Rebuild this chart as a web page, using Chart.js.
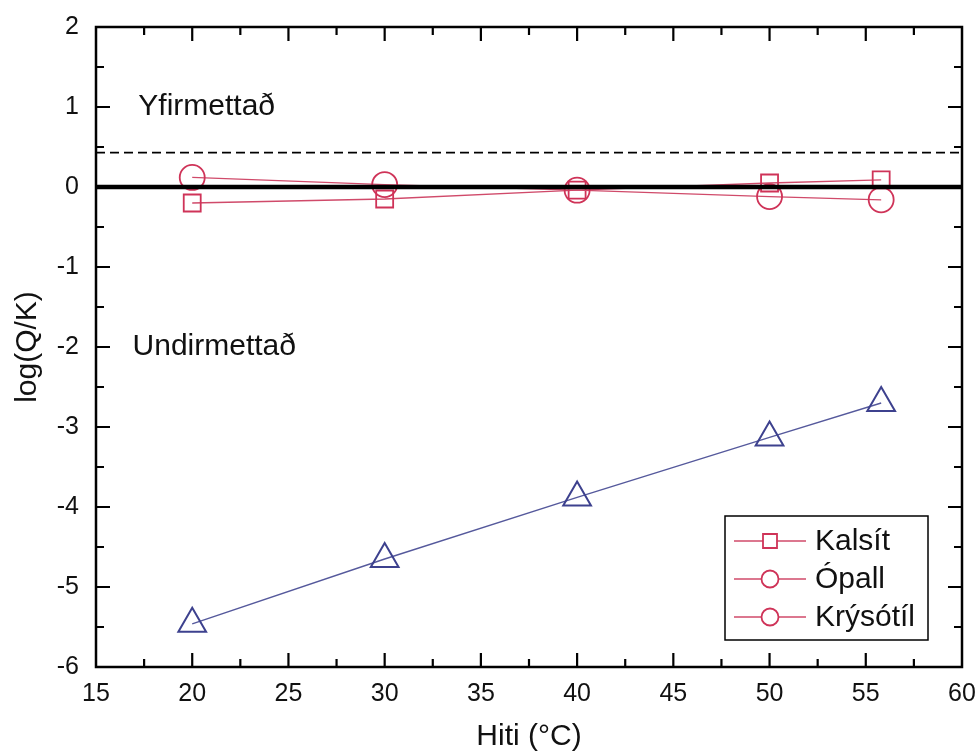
<!DOCTYPE html>
<html><head><meta charset="utf-8">
<script src="https://cdn.jsdelivr.net/npm/chart.js@4"></script>
<style>html,body{margin:0;padding:0;background:#fff}#wrap{width:980px;height:756px;position:relative}</style>
</head><body><div id="wrap"><canvas id="c"></canvas></div>
<script>
// ---- data ----
const temps = [20, 30, 40, 50, 55.8];
const kalsit = [-0.20, -0.15, -0.04, 0.05, 0.09];
const opall = [0.12, 0.03, -0.04, -0.12, -0.16];
const triangleSeries = [-5.46, -4.65, -3.88, -3.13, -2.70];
const legendLabels = ['Kalsít', 'Ópall', 'Krýsótíl'];
const regionLabels = ['Yfirmettað', 'Undirmettað'];
const equilibriumLevel = [0, 0];
const thresholdLevel = [0.43, 0.43];
const xRange = [15, 60];
const yRange = [-6, 2];
const xTitle = 'Hiti (°C)';
const yTitle = 'log(Q/K)';

const RED = '#cf3358';
const RED_LINE = '#d04a6a';
const BLUE = '#3d418e';
const BLUE_LINE = '#55599c';
const FONT = '"Liberation Sans", Arial, sans-serif';

const toPts = (xs, ys) => xs.map((x, i) => ({x, y: ys[i]}));

const frameTicks = {
  id: 'frameTicks',
  afterDraw(chart) {
    const {ctx, chartArea: a, scales: {x, y}} = chart;
    ctx.save();
    ctx.strokeStyle = '#000';
    ctx.lineWidth = 2.5;
    ctx.strokeRect(a.left, a.top, a.right - a.left, a.bottom - a.top);
    ctx.lineWidth = 2.2;
    ctx.beginPath();
    for (let v = xRange[0] + 2.5; v < xRange[1]; v += 2.5) {
      const px = x.getPixelForValue(v);
      const L = (v % 5 === 0) ? 14 : 8;
      ctx.moveTo(px, a.bottom); ctx.lineTo(px, a.bottom - L);
      ctx.moveTo(px, a.top); ctx.lineTo(px, a.top + L);
    }
    for (let v = yRange[0] + 0.5; v < yRange[1]; v += 0.5) {
      const py = y.getPixelForValue(v);
      const L = (Math.abs(v % 1) < 1e-9) ? 14 : 8;
      ctx.moveTo(a.left, py); ctx.lineTo(a.left + L, py);
      ctx.moveTo(a.right, py); ctx.lineTo(a.right - L, py);
    }
    ctx.stroke();

    // region labels
    ctx.fillStyle = '#111';
    ctx.font = '30px ' + FONT;
    ctx.textBaseline = 'middle';
    ctx.textAlign = 'left';
    ctx.fillText(regionLabels[0], x.getPixelForValue(17.2), y.getPixelForValue(1.0));
    ctx.fillText(regionLabels[1], x.getPixelForValue(16.9), y.getPixelForValue(-2.0));

    // legend
    const bx = 725, by = 516, bw = 203, bh = 124;
    ctx.fillStyle = '#fff';
    ctx.fillRect(bx, by, bw, bh);
    ctx.lineWidth = 1.5;
    ctx.strokeStyle = '#000';
    ctx.strokeRect(bx, by, bw, bh);
    const rows = [541, 579, 617];
    const styles = ['rect', 'circle', 'circle'];
    legendLabels.forEach((lab, i) => {
      const ry = rows[i];
      ctx.strokeStyle = RED_LINE; ctx.lineWidth = 1.4;
      ctx.beginPath(); ctx.moveTo(734, ry); ctx.lineTo(806, ry); ctx.stroke();
      ctx.fillStyle = '#fff';
      ctx.strokeStyle = RED; ctx.lineWidth = 1.8;
      ctx.beginPath();
      if (styles[i] === 'rect') ctx.rect(770 - 7, ry - 7, 14, 14);
      else ctx.arc(770, ry, 8.5, 0, Math.PI * 2);
      ctx.fill(); ctx.stroke();
      ctx.fillStyle = '#111';
      ctx.font = '30px ' + FONT;
      ctx.fillText(lab, 815, ry + 1);
    });
    ctx.restore();
  }
};

new Chart(document.getElementById('c'), {
  type: 'scatter',
  data: {
    datasets: [
      {label: 'eq', data: toPts(xRange, equilibriumLevel), showLine: true, borderColor: '#000',
       borderWidth: 4.5, pointRadius: 0, clip: false},
      {label: legendLabels[1], data: toPts(temps, opall), showLine: true, borderColor: RED_LINE,
       borderWidth: 1.3, pointStyle: 'circle', pointRadius: 12.5, pointBorderWidth: 1.8,
       pointBorderColor: RED, pointBackgroundColor: 'rgba(0,0,0,0)'},
      {label: legendLabels[0], data: toPts(temps, kalsit), showLine: true, borderColor: RED_LINE,
       borderWidth: 1.3, pointStyle: 'rect', pointRadius: 12, pointBorderWidth: 1.8,
       pointBorderColor: RED, pointBackgroundColor: 'rgba(0,0,0,0)'},
      {label: 'triangles', data: toPts(temps, triangleSeries), showLine: true, borderColor: BLUE_LINE,
       borderWidth: 1.4, pointStyle: 'triangle', pointRadius: 16, pointBorderWidth: 2,
       pointBorderColor: BLUE, pointBackgroundColor: 'rgba(0,0,0,0)'},
      {label: 'threshold', data: toPts(xRange, thresholdLevel), showLine: true, borderColor: '#000',
       borderWidth: 1.6, borderDash: [9, 5], pointRadius: 0, clip: false}
    ]
  },
  options: {
    responsive: true,
    maintainAspectRatio: false,
    animation: false,
    layout: {padding: {top: 27, right: 4, left: 0, bottom: 0}},
    plugins: {legend: {display: false}, tooltip: {enabled: false}},
    scales: {
      x: {
        type: 'linear', min: xRange[0], max: xRange[1],
        grid: {display: false}, border: {display: false},
        ticks: {stepSize: 5, padding: 4, color: '#111', font: {family: FONT, size: 25}},
        title: {display: true, text: xTitle, color: '#111', font: {family: FONT, size: 30}, padding: {top: 0, bottom: 1}},
        afterFit(s) { s.height = 89; }
      },
      y: {
        min: yRange[0], max: yRange[1],
        grid: {display: false}, border: {display: false},
        ticks: {stepSize: 1, padding: 9, color: '#111', font: {family: FONT, size: 25}},
        title: {display: true, text: yTitle, color: '#111', font: {family: FONT, size: 30}, padding: {top: 10, bottom: 0}},
        afterFit(s) { s.width = 96; }
      }
    }
  },
  plugins: [frameTicks]
});
</script></body></html>
